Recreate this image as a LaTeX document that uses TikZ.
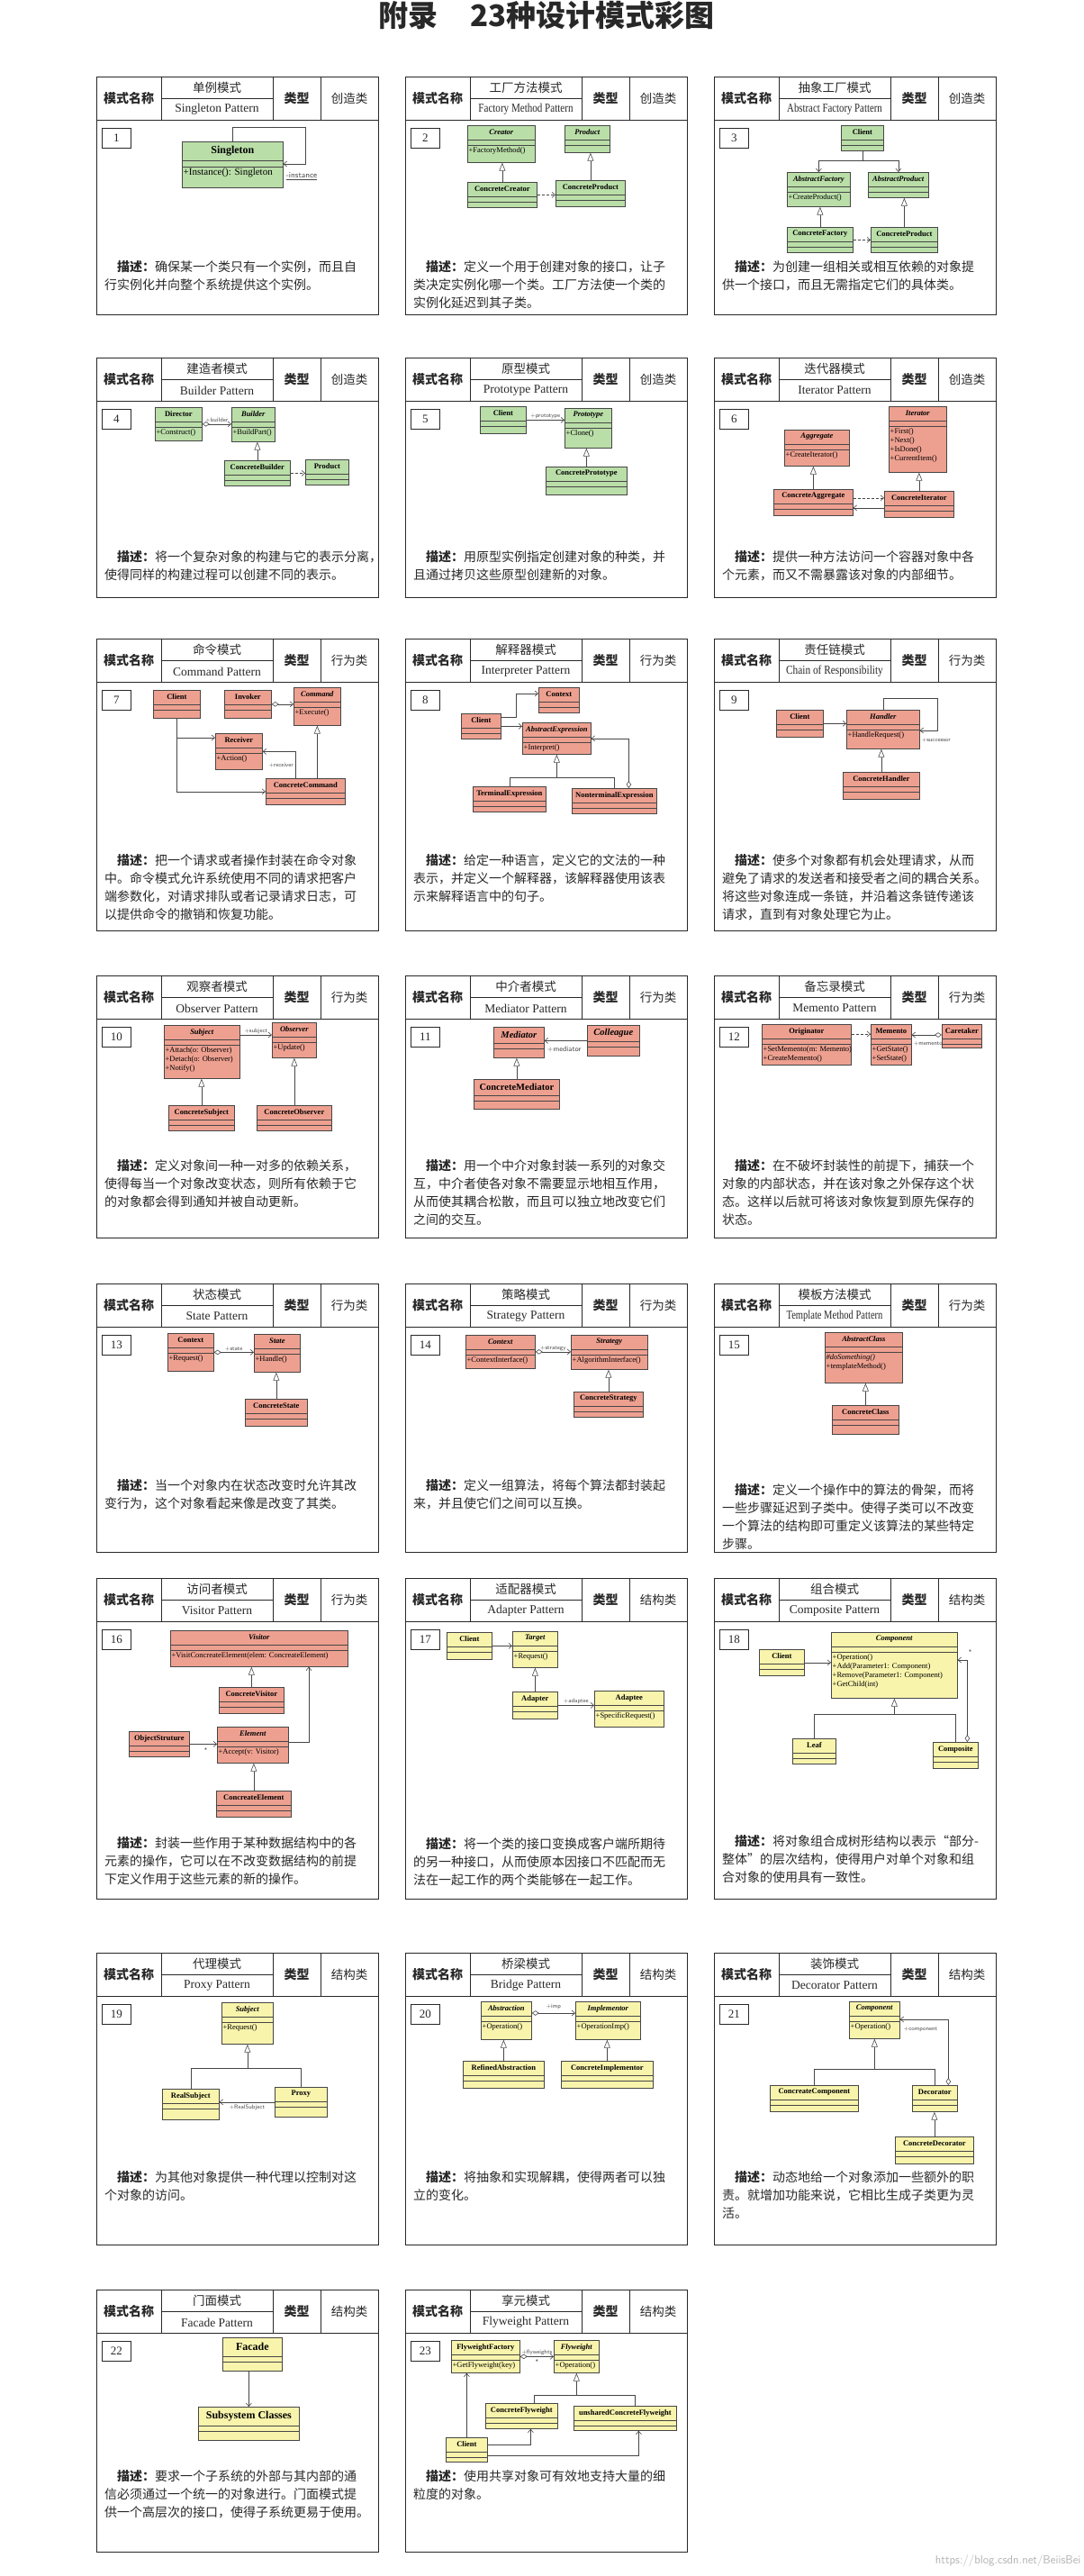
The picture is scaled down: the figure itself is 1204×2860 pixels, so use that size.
\documentclass[tikz,border=0pt]{standalone}
\usepackage{fontspec}
\usepackage{graphicx}
\setmainfont{Liberation Serif}
\newfontfamily\cjk{Noto Sans CJK SC}
\usetikzlibrary{arrows.meta, positioning, calc}
\XeTeXlinebreaklocale "zh"
\XeTeXlinebreakskip=0pt plus 1.5pt minus 1pt

\definecolor{umlgreen}{RGB}{186,222,168}
\definecolor{umlred}{RGB}{238,160,144}
\definecolor{umlyellow}{RGB}{248,244,172}
\definecolor{umledge}{RGB}{70,70,70}
\definecolor{inkgray}{RGB}{40,40,40}

\tikzset{
  cardframe/.style={draw=inkgray, line width=1pt},
  cellline/.style={draw=inkgray, line width=0.6pt},
  hdbold/.style={font=\cjk\bfseries\fontsize{14}{16}\selectfont, text=inkgray},
  hdtext/.style={font=\cjk\fontsize{13.5}{16}\selectfont, text=inkgray},
  hdlatin/.style={font=\fontsize{13.5}{16}\selectfont, text=inkgray},
  numbox/.style={draw=inkgray, line width=0.8pt, anchor=north west, minimum width=32pt,
    minimum height=22pt, inner sep=0pt, font=\fontsize{13}{15}\selectfont, text=inkgray},
  desc/.style={anchor=north west, inner sep=0pt, align=left, text=inkgray,
    font=\cjk\fontsize{14}{20}\selectfont},
  classbox/.style={draw=umledge, line width=0.7pt, anchor=north west, inner sep=0pt},
  classes/.style={classbox/.append style={fill=#1}},
  classsep/.style={draw=umledge, line width=0.6pt},
  classtitle/.style={inner sep=0pt, font=\bfseries\fontsize{8.5}{10}\selectfont},
  classops/.style={anchor=north west, inner xsep=1.5pt, inner ysep=2pt, align=left,
    font=\fontsize{8.5}{10}\selectfont},
  connector/.style={draw=umledge, line width=0.6pt},
  inherit/.style={connector, -{Triangle[open, length=9pt, width=7pt]}},
  assoc/.style={connector, -{Straight Barb[length=3.5pt, width=6pt]}},
  depend/.style={assoc, dash pattern=on 3pt off 2pt},
  aggr/.style={connector, {Diamond[open, length=8pt, width=5.5pt]}-{Straight Barb[length=3.5pt, width=6pt]}},
  role/.style={inner sep=1pt, font=\sffamily\fontsize{6.5}{7}\selectfont, text=umledge},
}

\newcommand{\nameh}{16}
\newcommand{\attrh}{6}
\newcommand{\descline}[1]{\makebox[290pt][s]{#1}}
\newcommand{\umlclass}[7]{%
  \node[classbox, minimum width=#4pt, minimum height=#5pt] (#1) at (#2,#3) {};
  \draw[classsep] ($(#1.north west)+(0,\nameh)$) -- ($(#1.north east)+(0,\nameh)$)
    ($(#1.north west)+(0,\nameh+\attrh)$) -- ($(#1.north east)+(0,\nameh+\attrh)$);
  \node[classtitle] (#1-t) at ($(#1.north)+(0,\nameh/2)$) {#6};
  \node[classops] (#1-o) at ($(#1.north west)+(0,\nameh+\attrh)$) {#7};
}
\newcommand{\cardhead}[5]{%
  \draw[cardframe] (0,0) rectangle (313,#1);
  \draw[cardframe] (0,48) -- (313,48);
  \draw[cellline] (72,0) -- (72,48) (196,0) -- (196,48) (249,0) -- (249,48) (72,24) -- (196,24);
  \node[hdbold] (kind#5) at (36,24) {模式名称};
  \node[hdtext] (cn#5) at (134,12.5) {#2};
  \node[hdlatin] (en#5) at (134,36.5) {#3};
  \node[hdbold] (lx#5) at (222.5,24) {类型};
  \node[hdtext] (type#5) at (281,24) {#4};
  \node[numbox] (no#5) at (6,57) {#5};
}

\begin{document}
\begin{tikzpicture}[x=1pt, y=-1pt]
  \fill[white] (0,0) rectangle (1204,2860);
  \useasboundingbox (0,0) rectangle (1204,2860);
  \node[font=\cjk\bfseries\fontsize{33}{36}\selectfont, text=inkgray] (title) at (607,17) {附录\hspace{36pt}23种设计模式彩图};

  % 1 singleton
  \begin{scope}[shift={(107,85)}, classes=umlgreen]
    \renewcommand{\nameh}{21}\renewcommand{\attrh}{7}
    \tikzset{classtitle/.append style={font=\bfseries\fontsize{12}{14}\selectfont},
      classops/.append style={font=\fontsize{11}{13}\selectfont}}
    \cardhead{264}{单例模式}{Singleton Pattern}{创造类}{1}
    \umlclass{single}{95}{72}{112}{51}{Singleton}{+Instance(): Singleton}
    \draw[assoc] (single.north) -- ++(0,-16) -| ($(single.north east)+(25,25)$) -- ($(single.north east)+(0,25)$);
    \node[role, anchor=west, font=\sffamily\fontsize{9}{10}\selectfont] (inst) at ($(single.north east)+(2,39)$) {\underline{-instance}};
    \node[desc] (desc1) at (9,204) {\descline{\hspace*{14pt}\textbf{描述：}确保某一个类只有一个实例，而且自}\\行实例化并向整个系统提供这个实例。};
  \end{scope}

  % 2 factory method
  \begin{scope}[shift={(450,85)}, classes=umlgreen]
    \cardhead{264}{工厂方法模式}{\scalebox{0.82}[1]{Factory Method Pattern}}{创造类}{2}
    \umlclass{creator}{69}{54}{75}{41}{\textit{Creator}}{+FactoryMethod()}
    \umlclass{product}{177}{54}{50}{30}{\textit{Product}}{}
    \umlclass{ccreator}{69}{117}{77}{28}{ConcreteCreator}{}
    \umlclass{cproduct}{167}{115}{77}{29}{ConcreteProduct}{}
    \draw[inherit] (ccreator.north) -- (ccreator.north |- creator.south);
    \draw[inherit] (cproduct.north) -- (cproduct.north |- product.south);
    \draw[depend] (ccreator.east) -- (ccreator.east -| cproduct.west);
    \node[desc] (desc2) at (9,204) {\descline{\hspace*{14pt}\textbf{描述：}定义一个用于创建对象的接口，让子}\\\descline{类决定实例化哪一个类。工厂方法使一个类的}\\实例化延迟到其子类。};
  \end{scope}

  % 3 abstract factory
  \begin{scope}[shift={(793,85)}, classes=umlgreen]
    \cardhead{264}{抽象工厂模式}{\scalebox{0.8}[1]{Abstract Factory Pattern}}{创造类}{3}
    \umlclass{client}{141}{54}{47}{28}{Client}{}
    \umlclass{afactory}{81}{106}{70}{38}{\textit{AbstractFactory}}{+CreateProduct()}
    \umlclass{aproduct}{171}{106}{67}{28}{\textit{AbstractProduct}}{}
    \umlclass{cfactory}{81}{167}{73}{28}{ConcreteFactory}{}
    \umlclass{cproduct}{174}{167}{74}{28}{ConcreteProduct}{}
    \draw[connector] (client.south) -- ++(0,11) coordinate (fork);
    \draw[assoc] (fork) -| (afactory.north);
    \draw[assoc] (fork) -| (aproduct.north);
    \draw[inherit] (cfactory.north) -- (cfactory.north |- afactory.south);
    \draw[inherit] (cproduct.north) -- (cproduct.north |- aproduct.south);
    \draw[depend] (cfactory.east) -- (cfactory.east -| cproduct.west);
    \node[desc] (desc3) at (9,204) {\descline{\hspace*{14pt}\textbf{描述：}为创建一组相关或相互依赖的对象提}\\供一个接口，而且无需指定它们的具体类。};
  \end{scope}

  % 4 builder
  \begin{scope}[shift={(107,397)}, classes=umlgreen]
    \cardhead{266}{建造者模式}{Builder Pattern}{创造类}{4}
    \umlclass{director}{65}{55}{52}{37}{Director}{+Construct()}
    \umlclass{builder}{150}{55}{48}{38}{\textit{Builder}}{+BuildPart()}
    \umlclass{cbuilder}{142}{114}{73}{28}{ConcreteBuilder}{}
    \umlclass{product}{232}{113}{48}{28}{Product}{}
    \draw[aggr] (director.east) -- (director.east -| builder.west) node[role, midway, above] (rb) {+builder};
    \draw[inherit] (cbuilder.north) -- (cbuilder.north |- builder.south);
    \draw[depend] (cbuilder.east) -- (cbuilder.east -| product.west);
    \node[desc] (desc4) at (9,214) {\descline{\hspace*{14pt}\textbf{描述：}将一个复杂对象的构建与它的表示分离，}\\使得同样的构建过程可以创建不同的表示。};
  \end{scope}

  % 5 prototype
  \begin{scope}[shift={(450,397)}, classes=umlgreen]
    \cardhead{266}{原型模式}{Prototype Pattern}{创造类}{5}
    \umlclass{client}{83}{54}{51}{30}{Client}{}
    \umlclass{prototype}{177}{56}{52}{44}{\textit{Prototype}}{+Clone()}
    \umlclass{cproto}{156}{121}{90}{31}{ConcretePrototype}{}
    \draw[assoc] (client.east) -- (client.east -| prototype.west) node[role, midway, above] (rp) {+prototype};
    \draw[inherit] (cproto.north) -- (cproto.north |- prototype.south);
    \node[desc] (desc5) at (9,214) {\descline{\hspace*{14pt}\textbf{描述：}用原型实例指定创建对象的种类，并}\\且通过拷贝这些原型创建新的对象。};
  \end{scope}

  % 6 iterator
  \begin{scope}[shift={(793,397)}, classes=umlred]
    \cardhead{266}{迭代器模式}{Iterator Pattern}{创造类}{6}
    \umlclass{iterator}{194}{54}{64}{73}{\textit{Iterator}}{+First()\\+Next()\\+IsDone()\\+CurrentItem()}
    \umlclass{aggregate}{78}{80}{72}{40}{\textit{Aggregate}}{+CreateIterator()}
    \umlclass{caggr}{66}{146}{88}{29}{ConcreteAggregate}{}
    \umlclass{citer}{189}{148}{77}{29}{ConcreteIterator}{}
    \draw[inherit] (caggr.north) -- (caggr.north |- aggregate.south);
    \draw[inherit] (citer.north) -- (citer.north |- iterator.south);
    \coordinate (a1) at ($(caggr.east)+(0,-5)$);
    \coordinate (a2) at ($(caggr.east)+(0,6)$);
    \draw[depend] (a1) -- (a1 -| citer.west);
    \draw[assoc] (a2 -| citer.west) -- (a2);
    \node[desc] (desc6) at (9,214) {\descline{\hspace*{14pt}\textbf{描述：}提供一种方法访问一个容器对象中各}\\个元素，而又不需暴露该对象的内部细节。};
  \end{scope}

  % 7 command
  \begin{scope}[shift={(107,709)}, classes=umlred]
    \cardhead{324}{命令模式}{Command Pattern}{行为类}{7}
    \umlclass{client}{63}{57}{52}{31}{Client}{}
    \umlclass{invoker}{142}{57}{52}{31}{Invoker}{}
    \umlclass{command}{219}{54}{52}{42}{\textit{Command}}{+Execute()}
    \umlclass{receiver}{132}{105}{52}{40}{Receiver}{+Action()}
    \umlclass{ccommand}{188}{155}{88}{29}{ConcreteCommand}{}
    \draw[aggr] (invoker.east) -- (invoker.east -| command.west);
    \coordinate (r1) at ($(receiver.north west)+(0,5)$);
    \draw[assoc] (client.south) |- (r1);
    \draw[assoc] (client.south) |- (ccommand.west);
    \coordinate (r2) at ($(ccommand.north west)+(33,0)$);
    \draw[assoc] (r2) |- (receiver.east);
    \node[role, anchor=east] (rr) at ($(r2)+(-1,-14)$) {+receiver};
    \draw[inherit] (command.south |- ccommand.north) -- (command.south);
    \node[desc] (desc7) at (9,239) {\descline{\hspace*{14pt}\textbf{描述：}把一个请求或者操作封装在命令对象}\\\descline{中。命令模式允许系统使用不同的请求把客户}\\\descline{端参数化，对请求排队或者记录请求日志，可}\\以提供命令的撤销和恢复功能。};
  \end{scope}

  % 8 interpreter
  \begin{scope}[shift={(450,709)}, classes=umlred]
    \cardhead{324}{解释器模式}{Interpreter Pattern}{行为类}{8}
    \umlclass{context}{148}{54}{45}{28}{Context}{}
    \umlclass{client}{62}{83}{44}{28}{Client}{}
    \umlclass{absexp}{130}{93}{76}{35}{\textit{AbstractExpression}}{+Interpret()}
    \umlclass{terminal}{75}{164}{81}{28}{TerminalExpression}{}
    \umlclass{nonterm}{185}{166}{94}{28}{NonterminalExpression}{}
    \coordinate (k1) at ($(client.north east)+(0,4)$);
    \coordinate (k2) at ($(context.north west)+(0,7)$);
    \draw[assoc] (k1) -- ++(17,0) |- (k2);
    \draw[assoc] (client.east) -- (client.east -| absexp.west);
    \coordinate (f) at ($(absexp.south)+(0,26)$);
    \draw[connector] (terminal.north) |- (f) -| (nonterm.north);
    \draw[inherit] (f) -- (absexp.south);
    \coordinate (n1) at ($(nonterm.north)+(16,0)$);
    \draw[aggr] (n1) |- (absexp.east);
    \node[desc] (desc8) at (9,239) {\descline{\hspace*{14pt}\textbf{描述：}给定一种语言，定义它的文法的一种}\\\descline{表示，并定义一个解释器，该解释器使用该表}\\示来解释语言中的句子。};
  \end{scope}

  % 9 chain of responsibility
  \begin{scope}[shift={(793,709)}, classes=umlred]
    \cardhead{324}{责任链模式}{\scalebox{0.84}[1]{Chain of Responsibility}}{行为类}{9}
    \umlclass{client}{69}{79}{52}{30}{Client}{}
    \umlclass{handler}{147}{79}{81}{43}{\textit{Handler}}{+HandleRequest()}
    \umlclass{chandler}{143}{148}{85}{30}{ConcreteHandler}{}
    \draw[assoc] (client.east) -- (client.east -| handler.west);
    \draw[assoc] (handler.north) -- ++(0,-13) -| ($(handler.north east)+(20,23)$) -- ($(handler.north east)+(0,23)$);
    \node[role, anchor=west] (rs) at ($(handler.north east)+(1,34)$) {+successor};
    \draw[inherit] (chandler.north) -- (chandler.north |- handler.south);
    \node[desc] (desc9) at (9,239) {\descline{\hspace*{14pt}\textbf{描述：}使多个对象都有机会处理请求，从而}\\\descline{避免了请求的发送者和接受者之间的耦合关系。}\\\descline{将这些对象连成一条链，并沿着这条链传递该}\\请求，直到有对象处理它为止。};
  \end{scope}

  % 10 observer
  \begin{scope}[shift={(107,1083)}, classes=umlred]
    \cardhead{291}{观察者模式}{Observer Pattern}{行为类}{10}
    \umlclass{subject}{75}{55}{84}{59}{\textit{Subject}}{+Attach(o: Observer)\\+Detach(o: Observer)\\+Notify()}
    \umlclass{observer}{195}{52}{49}{39}{\textit{Observer}}{+Update()}
    \umlclass{csubject}{80}{144}{73}{28}{ConcreteSubject}{}
    \umlclass{cobserver}{178}{144}{83}{28}{ConcreteObserver}{}
    \coordinate (s1) at ($(subject.north east)+(0,11)$);
    \draw[assoc] (s1) -- (s1 -| observer.west) node[role, midway, above] (rsub) {+subject};
    \draw[inherit] (csubject.north) -- (csubject.north |- subject.south);
    \draw[inherit] (cobserver.north) -- (cobserver.north |- observer.south);
    \node[desc] (desc10) at (9,204) {\descline{\hspace*{14pt}\textbf{描述：}定义对象间一种一对多的依赖关系，}\\\descline{使得每当一个对象改变状态，则所有依赖于它}\\的对象都会得到通知并被自动更新。};
  \end{scope}

  % 11 mediator
  \begin{scope}[shift={(450,1083)}, classes=umlred]
    \renewcommand{\nameh}{18}
    \tikzset{classtitle/.append style={font=\bfseries\fontsize{10.5}{12}\selectfont}}
    \cardhead{291}{中介者模式}{Mediator Pattern}{行为类}{11}
    \umlclass{mediator}{98}{57}{56}{34}{\textit{Mediator}}{}
    \umlclass{colleague}{202}{55}{58}{34}{\textit{Colleague}}{}
    \umlclass{cmediator}{76}{115}{95}{33}{ConcreteMediator}{}
    \draw[assoc] (colleague.west) -- (colleague.west -| mediator.east);
    \node[role, anchor=north west, font=\sffamily\fontsize{8}{9}\selectfont] (rm) at ($(mediator.east)+(2,3)$) {+mediator};
    \draw[inherit] (cmediator.north) -- (cmediator.north |- mediator.south);
    \node[desc] (desc11) at (9,204) {\descline{\hspace*{14pt}\textbf{描述：}用一个中介对象封装一系列的对象交}\\\descline{互，中介者使各对象不需要显示地相互作用，}\\\descline{从而使其耦合松散，而且可以独立地改变它们}\\之间的交互。};
  \end{scope}

  % 12 memento
  \begin{scope}[shift={(793,1083)}, classes=umlred]
    \cardhead{291}{备忘录模式}{Memento Pattern}{行为类}{12}
    \umlclass{originator}{53}{54}{99}{45}{Originator}{+SetMemento(m: Memento)\\+CreateMemento()}
    \umlclass{memento}{174}{54}{45}{45}{Memento}{+GetState()\\+SetState()}
    \umlclass{caretaker}{253}{54}{44}{26}{Caretaker}{}
    \coordinate (o1) at ($(originator.north east)+(0,11)$);
    \draw[depend] (o1) -- (o1 -| memento.west);
    \coordinate (o2) at ($(caretaker.north west)+(0,12)$);
    \draw[aggr] (o2) -- (o2 -| memento.east);
    \node[role, anchor=west] (rmem) at ($(memento.north east)+(1,22)$) {+memento};
    \node[desc] (desc12) at (9,204) {\descline{\hspace*{14pt}\textbf{描述：}在不破坏封装性的前提下，捕获一个}\\\descline{对象的内部状态，并在该对象之外保存这个状}\\\descline{态。这样以后就可将该对象恢复到原先保存的}\\状态。};
  \end{scope}

  % 13 state
  \begin{scope}[shift={(107,1425)}, classes=umlred]
    \cardhead{298}{状态模式}{State Pattern}{行为类}{13}
    \umlclass{context}{79}{55}{51}{42}{Context}{+Request()}
    \umlclass{state}{175}{56}{51}{42}{\textit{State}}{+Handle()}
    \umlclass{cstate}{165}{128}{69}{30}{ConcreteState}{}
    \draw[aggr] (context.east) -- (context.east -| state.west) node[role, midway, above] (rst) {+state};
    \draw[inherit] (cstate.north) -- (cstate.north |- state.south);
    \node[desc] (desc13) at (9,217) {\descline{\hspace*{14pt}\textbf{描述：}当一个对象内在状态改变时允许其改}\\变行为，这个对象看起来像是改变了其类。};
  \end{scope}

  % 14 strategy
  \begin{scope}[shift={(450,1425)}, classes=umlred]
    \cardhead{298}{策略模式}{Strategy Pattern}{行为类}{14}
    \umlclass{context}{67}{57}{77}{37}{\textit{Context}}{+ContextInterface()}
    \umlclass{strategy}{184}{57}{85}{38}{\textit{Strategy}}{+AlgorithmInterface()}
    \umlclass{cstrategy}{187}{120}{77}{28}{ConcreteStrategy}{}
    \draw[aggr] (context.east) -- (context.east -| strategy.west) node[role, midway, above] (rstr) {+strategy};
    \draw[inherit] (cstrategy.north) -- (cstrategy.north |- strategy.south);
    \node[desc] (desc14) at (9,217) {\descline{\hspace*{14pt}\textbf{描述：}定义一组算法，将每个算法都封装起}\\来，并且使它们之间可以互换。};
  \end{scope}

  % 15 template method
  \begin{scope}[shift={(793,1425)}, classes=umlred]
    \cardhead{298}{模板方法模式}{\scalebox{0.78}[1]{Template Method Pattern}}{行为类}{15}
    \umlclass{absclass}{123}{54}{86}{56}{\textit{AbstractClass}}{\textit{\#doSomething()}\\+templateMethod()}
    \umlclass{cclass}{131}{135}{74}{32}{ConcreteClass}{}
    \draw[inherit] (cclass.north) -- (cclass.north |- absclass.south);
    \node[desc] (desc15) at (9,222) {\descline{\hspace*{14pt}\textbf{描述：}定义一个操作中的算法的骨架，而将}\\\descline{一些步骤延迟到子类中。使得子类可以不改变}\\\descline{一个算法的结构即可重定义该算法的某些特定}\\步骤。};
  \end{scope}

  % 16 visitor
  \begin{scope}[shift={(107,1752)}, classes=umlred]
    \cardhead{356}{访问者模式}{Visitor Pattern}{行为类}{16}
    \umlclass{visitor}{82}{58}{197}{40}{\textit{Visitor}}{+VisitConcreateElement(elem: ConcreateElement)}
    \umlclass{cvisitor}{136}{121}{72}{29}{ConcreteVisitor}{}
    \umlclass{objs}{36}{170}{67}{28}{ObjectStruture}{}
    \umlclass{element}{134}{165}{79}{40}{\textit{Element}}{+Accept(v: Visitor)}
    \umlclass{celement}{133}{236}{83}{29}{ConcreateElement}{}
    \draw[inherit] (cvisitor.north) -- (cvisitor.north |- visitor.south);
    \draw[assoc] (objs.east) -- (objs.east -| element.west);
    \node[role] (star16) at ($(objs.east)+(18,7)$) {*};
    \coordinate (e1) at ($(element.north east)+(0,17)$);
    \coordinate (e2) at ($(visitor.south west)+(154,0)$);
    \draw[assoc] (e1) -| (e2);
    \draw[inherit] (celement.north) -- (celement.north |- element.south);
    \node[desc] (desc16) at (9,287) {\descline{\hspace*{14pt}\textbf{描述：}封装一些作用于某种数据结构中的各}\\\descline{元素的操作，它可以在不改变数据结构的前提}\\下定义作用于这些元素的新的操作。};
  \end{scope}

  % 17 adapter
  \begin{scope}[shift={(450,1752)}, classes=umlyellow]
    \cardhead{356}{适配器模式}{Adapter Pattern}{结构类}{17}
    \umlclass{client}{46}{60}{50}{30}{Client}{}
    \umlclass{target}{119}{59}{50}{40}{\textit{Target}}{+Request()}
    \umlclass{adapter}{119}{126}{50}{30}{Adapter}{}
    \umlclass{adaptee}{210}{125}{77}{40}{Adaptee}{+SpecificRequest()}
    \draw[assoc] (client.east) -- (client.east -| target.west);
    \draw[inherit] (adapter.north) -- (adapter.north |- target.south);
    \draw[assoc] (adapter.east) -- (adapter.east -| adaptee.west) node[role, midway, above] (rad) {+adaptee};
    \node[desc] (desc17) at (9,288) {\descline{\hspace*{14pt}\textbf{描述：}将一个类的接口变换成客户端所期待}\\\descline{的另一种接口，从而使原本因接口不匹配而无}\\法在一起工作的两个类能够在一起工作。};
  \end{scope}

  % 18 composite
  \begin{scope}[shift={(793,1752)}, classes=umlyellow]
    \cardhead{356}{组合模式}{Composite Pattern}{结构类}{18}
    \umlclass{component}{130}{60}{140}{73}{\textit{Component}}{+Operation()\\+Add(Parameter1: Component)\\+Remove(Parameter1: Component)\\+GetChild(int)}
    \umlclass{client}{50}{79}{50}{29}{Client}{}
    \umlclass{leaf}{87}{178}{48}{28}{Leaf}{}
    \umlclass{composite}{243}{182}{50}{29}{Composite}{}
    \draw[assoc] (client.east) -- (client.east -| component.west);
    \coordinate (g) at ($(component.south)+(0,18)$);
    \draw[connector] (leaf.north) |- (g) -| (composite.north);
    \draw[inherit] (g) -- (component.south);
    \coordinate (q) at ($(component.north east)+(0,31)$);
    \coordinate (q1) at ($(composite.north)+(13,0)$);
    \draw[aggr] (q1) |- (q);
    \node[role] (star18) at ($(q)+(14,-9)$) {*};
    \node[desc] (desc18) at (9,285) {\descline{\hspace*{14pt}\textbf{描述：}将对象组合成树形结构以表示“部分-}\\\descline{整体”的层次结构，使得用户对单个对象和组}\\合对象的使用具有一致性。};
  \end{scope}

  % 19 proxy
  \begin{scope}[shift={(107,2168)}, classes=umlyellow]
    \cardhead{324}{代理模式}{Proxy Pattern}{结构类}{19}
    \umlclass{subject}{139}{55}{57}{46}{\textit{Subject}}{+Request()}
    \umlclass{realsub}{73}{151}{63}{34}{RealSubject}{}
    \umlclass{proxy}{198}{149}{58}{33}{Proxy}{}
    \coordinate (g) at ($(subject.south)+(0,27)$);
    \draw[connector] (realsub.north) |- (g) -| (proxy.north);
    \draw[inherit] (g) -- (subject.south);
    \draw[assoc] (proxy.west) -- (proxy.west -| realsub.east) node[role, midway, below=2pt] (rreal) {+RealSubject};
    \node[desc] (desc19) at (9,242) {\descline{\hspace*{14pt}\textbf{描述：}为其他对象提供一种代理以控制对这}\\个对象的访问。};
  \end{scope}

  % 20 bridge
  \begin{scope}[shift={(450,2168)}, classes=umlyellow]
    \cardhead{324}{桥梁模式}{Bridge Pattern}{结构类}{20}
    \umlclass{abstraction}{84}{54}{56}{42}{\textit{Abstraction}}{+Operation()}
    \umlclass{implementor}{189}{54}{72}{42}{\textit{Implementor}}{+OperationImp()}
    \umlclass{refined}{64}{120}{90}{30}{RefinedAbstraction}{}
    \umlclass{concimpl}{173}{120}{102}{30}{ConcreteImplementor}{}
    \coordinate (b1) at ($(abstraction.north east)+(0,13)$);
    \draw[aggr] (b1) -- (b1 -| implementor.west) node[role, midway, above=3pt] (rimp) {+imp};
    \draw[inherit] (refined.north) -- (refined.north |- abstraction.south);
    \draw[inherit] (concimpl.north) -- (concimpl.north |- implementor.south);
    \node[desc] (desc20) at (9,242) {\descline{\hspace*{14pt}\textbf{描述：}将抽象和实现解耦，使得两者可以独}\\立的变化。};
  \end{scope}

  % 21 decorator
  \begin{scope}[shift={(793,2168)}, classes=umlyellow]
    \cardhead{324}{装饰模式}{Decorator Pattern}{结构类}{21}
    \umlclass{component}{150}{54}{56}{41}{\textit{Component}}{+Operation()}
    \umlclass{ccomp}{62}{147}{98}{29}{ConcreateComponent}{}
    \umlclass{decorator}{220}{147}{50}{29}{Decorator}{}
    \umlclass{cdecor}{201}{204}{87}{30}{ConcreteDecorator}{}
    \coordinate (g) at ($(component.south)+(0,34)$);
    \draw[connector] (ccomp.north) |- (g) -| (decorator.north);
    \draw[inherit] (g) -- (component.south);
    \draw[inherit] (cdecor.north) -- (cdecor.north |- decorator.south);
    \coordinate (d1) at ($(decorator.north)+(15,0)$);
    \coordinate (d2) at ($(component.north east)+(0,20)$);
    \draw[aggr] (d1) |- (d2);
    \node[role, anchor=west] (rcomp) at ($(d2)+(3,11)$) {+component};
    \node[desc] (desc21) at (9,242) {\descline{\hspace*{14pt}\textbf{描述：}动态地给一个对象添加一些额外的职}\\\descline{责。就增加功能来说，它相比生成子类更为灵}\\活。};
  \end{scope}

  % 22 facade
  \begin{scope}[shift={(107,2542)}, classes=umlyellow]
    \renewcommand{\nameh}{21}
    \tikzset{classtitle/.append style={font=\bfseries\fontsize{12}{14}\selectfont}}
    \cardhead{291}{门面模式}{Facade Pattern}{结构类}{22}
    \umlclass{facade}{140}{53}{66}{37}{Facade}{}
    \umlclass{subsys}{113}{130}{112}{37}{Subsystem Classes}{}
    \draw[assoc] (subsys.north |- facade.south) -- (subsys.north);
    \node[desc] (desc22) at (9,200) {\descline{\hspace*{14pt}\textbf{描述：}要求一个子系统的外部与其内部的通}\\\descline{信必须通过一个统一的对象进行。门面模式提}\\供一个高层次的接口，使得子系统更易于使用。};
  \end{scope}

  % 23 flyweight
  \begin{scope}[shift={(450,2542)}, classes=umlyellow]
    \cardhead{291}{享元模式}{Flyweight Pattern}{结构类}{23}
    \umlclass{ffactory}{51}{56}{76}{36}{FlyweightFactory}{+GetFlyweight(key)}
    \umlclass{flyweight}{165}{56}{50}{36}{\textit{Flyweight}}{+Operation()}
    \umlclass{cfly}{89}{126}{80}{28}{ConcreteFlyweight}{}
    \umlclass{ufly}{187}{129}{114}{27}{unsharedConcreteFlyweight}{}
    \umlclass{client}{45}{164}{46}{27}{Client}{}
    \draw[aggr] (ffactory.east) -- (ffactory.east -| flyweight.west) node[role, midway, above] (rfly) {+flyweights} node[role, midway, below=2pt] (star23) {*};
    \coordinate (g) at ($(flyweight.south)+(0,25)$);
    \draw[connector] ($(cfly.north)+(14,0)$) |- (g) -| ($(ufly.north)+(11,0)$);
    \draw[inherit] (g) -- (flyweight.south);
    \draw[assoc] (client.north) -- (client.north |- ffactory.south);
    \coordinate (h1) at ($(client.north east)+(0,8)$);
    \coordinate (h2) at ($(cfly.south)+(10,0)$);
    \draw[assoc] (h1) -| (h2);
    \coordinate (h3) at ($(client.north east)+(0,20)$);
    \coordinate (h4) at ($(ufly.south)+(15,0)$);
    \draw[assoc] (h3) -| (h4);
    \node[desc] (desc23) at (9,200) {\descline{\hspace*{14pt}\textbf{描述：}使用共享对象可有效地支持大量的细}\\粒度的对象。};
  \end{scope}

  \node[anchor=east, font=\sffamily\fontsize{13}{14}\selectfont, text=black!30] (mark) at (1204,2843) {https://blog.csdn.net/BeiisBei};
\end{tikzpicture}
\end{document}
